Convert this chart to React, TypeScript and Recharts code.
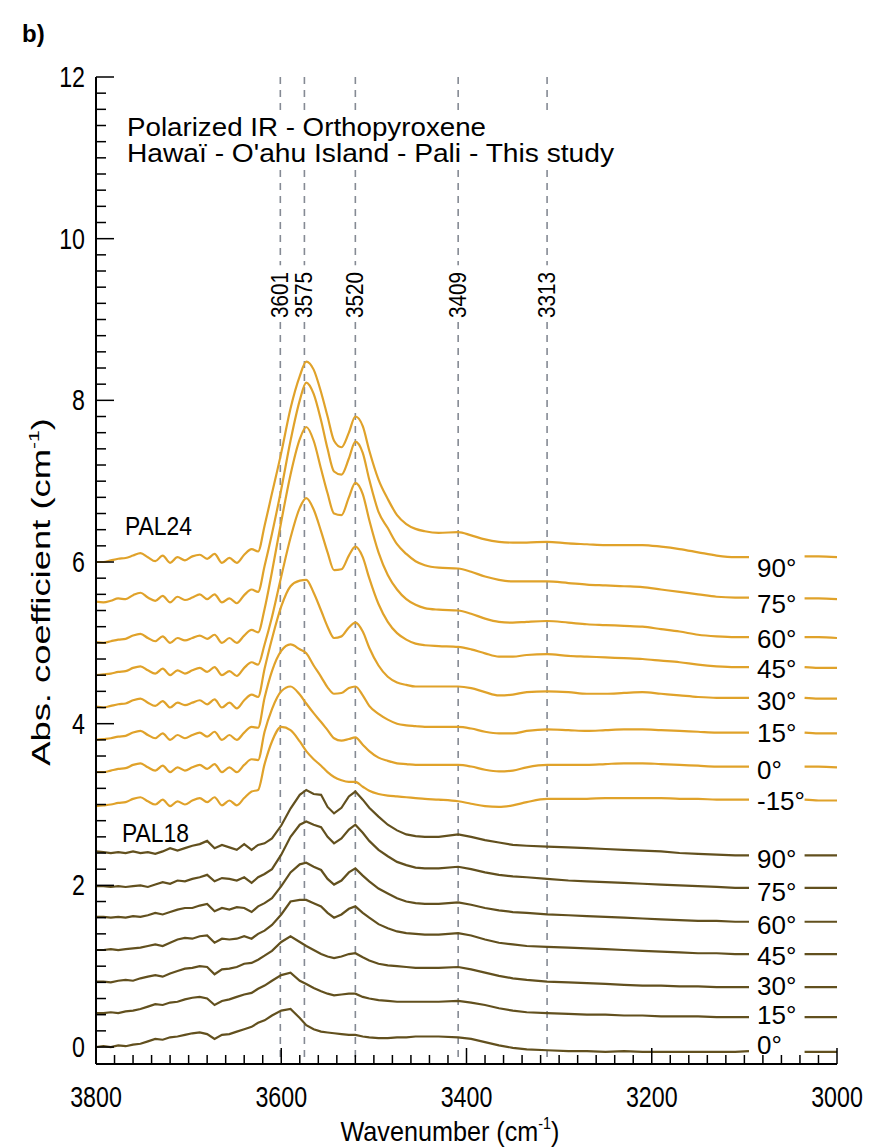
import React from 'react';
import {
  LineChart, Line, XAxis, YAxis, ReferenceLine, ReferenceDot, LabelList, Customized
} from 'recharts';

// wavenumber grid (cm-1), 3070 is the gap behind the angle labels
const wavenumbers = [
  3800, 3792, 3784, 3776, 3768, 3760, 3752, 3744, 3736, 3728, 3720, 3712, 3704, 3696, 3688, 3680,
  3672, 3664, 3656, 3648, 3640, 3632, 3625,
  3618, 3610, 3600, 3590, 3580, 3573, 3565, 3557, 3550, 3543, 3535, 3527, 3520, 3512, 3505, 3495,
  3485, 3475, 3465, 3455, 3445, 3430,
  3409, 3395, 3380, 3365, 3350, 3335, 3313, 3290, 3270, 3250, 3230, 3210, 3190, 3170, 3150, 3130,
  3110, 3095, 3070, 3035, 3020, 3000
];

// PAL24 spectra
const pal24_90 = [
  6.00, 6.00, 6.02, 6.04, 6.05, 6.08, 6.11, 6.06, 6.01, 6.08, 5.99, 6.06, 6.02, 6.07, 6.09, 6.04, 6.10, 5.99, 6.05, 5.99, 6.09, 6.16, 6.13,
  6.45, 6.85, 7.35, 7.90, 8.30, 8.48, 8.38, 8.10, 7.80, 7.50, 7.42, 7.60, 7.80, 7.68, 7.38, 7.02, 6.78, 6.58, 6.47, 6.41, 6.38, 6.36,
  6.37, 6.33, 6.28, 6.25, 6.24, 6.24, 6.25, 6.23, 6.22, 6.21, 6.21, 6.21, 6.19, 6.16, 6.12, 6.08, 6.06, 6.06, null, 6.07, 6.07, 6.06
];
const pal24_75 = [
  5.51, 5.50, 5.52, 5.55, 5.54, 5.59, 5.62, 5.56, 5.52, 5.58, 5.50, 5.57, 5.53, 5.56, 5.60, 5.54, 5.60, 5.50, 5.55, 5.49, 5.59, 5.66, 5.63,
  5.95, 6.35, 6.90, 7.50, 8.00, 8.22, 8.08, 7.75, 7.40, 7.12, 7.08, 7.28, 7.49, 7.35, 7.02, 6.62, 6.42, 6.22, 6.10, 6.01, 5.96, 5.93,
  5.92, 5.88, 5.82, 5.78, 5.76, 5.76, 5.76, 5.74, 5.72, 5.71, 5.70, 5.69, 5.66, 5.63, 5.60, 5.57, 5.56, 5.56, null, 5.55, 5.55, 5.54
];
const pal24_60 = [
  5.01, 5.00, 5.02, 5.04, 5.05, 5.09, 5.11, 5.06, 5.02, 5.08, 5.00, 5.06, 5.03, 5.06, 5.09, 5.05, 5.10, 5.00, 5.06, 5.00, 5.09, 5.16, 5.13,
  5.42, 5.88, 6.50, 7.08, 7.52, 7.67, 7.50, 7.15, 6.85, 6.60, 6.58, 6.80, 6.98, 6.84, 6.52, 6.12, 5.84, 5.66, 5.54, 5.47, 5.43, 5.41,
  5.40, 5.36, 5.30, 5.26, 5.25, 5.26, 5.27, 5.25, 5.23, 5.22, 5.21, 5.20, 5.17, 5.14, 5.10, 5.08, 5.07, 5.07, null, 5.07, 5.07, 5.06
];
const pal24_45 = [
  4.60, 4.61, 4.62, 4.64, 4.65, 4.69, 4.71, 4.66, 4.62, 4.68, 4.60, 4.66, 4.62, 4.66, 4.69, 4.64, 4.70, 4.60, 4.65, 4.59, 4.69, 4.76, 4.73,
  4.98, 5.32, 5.82, 6.30, 6.67, 6.79, 6.65, 6.38, 6.12, 5.90, 5.91, 6.08, 6.19, 6.06, 5.80, 5.48, 5.26, 5.12, 5.04, 4.99, 4.97, 4.96,
  4.95, 4.92, 4.87, 4.83, 4.83, 4.85, 4.86, 4.84, 4.83, 4.82, 4.81, 4.80, 4.78, 4.76, 4.73, 4.71, 4.70, 4.70, null, 4.70, 4.69, 4.69
];
const pal24_30 = [
  4.21, 4.20, 4.22, 4.24, 4.25, 4.29, 4.31, 4.26, 4.22, 4.28, 4.20, 4.26, 4.23, 4.26, 4.29, 4.24, 4.30, 4.20, 4.26, 4.19, 4.29, 4.36, 4.33,
  4.68, 5.05, 5.45, 5.70, 5.77, 5.78, 5.62, 5.40, 5.20, 5.06, 5.08, 5.19, 5.25, 5.14, 4.94, 4.72, 4.58, 4.51, 4.48, 4.46, 4.46, 4.46,
  4.46, 4.44, 4.39, 4.35, 4.36, 4.39, 4.40, 4.39, 4.37, 4.37, 4.38, 4.39, 4.37, 4.35, 4.33, 4.32, 4.32, 4.32, null, 4.32, 4.31, 4.31
];
const pal24_15 = [
  3.80, 3.81, 3.82, 3.84, 3.85, 3.89, 3.91, 3.86, 3.82, 3.88, 3.80, 3.86, 3.82, 3.86, 3.89, 3.84, 3.90, 3.80, 3.86, 3.80, 3.89, 3.96, 3.95,
  4.32, 4.65, 4.90, 4.98, 4.92, 4.87, 4.72, 4.58, 4.45, 4.37, 4.38, 4.44, 4.46, 4.35, 4.22, 4.12, 4.05, 4.00, 3.98, 3.97, 3.96, 3.96,
  3.96, 3.94, 3.90, 3.88, 3.88, 3.91, 3.93, 3.92, 3.91, 3.92, 3.93, 3.93, 3.92, 3.91, 3.90, 3.89, 3.89, 3.89, null, 3.89, 3.88, 3.88
];
const pal24_0 = [
  3.40, 3.40, 3.42, 3.44, 3.45, 3.49, 3.51, 3.46, 3.42, 3.48, 3.40, 3.46, 3.42, 3.46, 3.49, 3.44, 3.50, 3.40, 3.46, 3.40, 3.49, 3.56, 3.55,
  3.90, 4.18, 4.40, 4.46, 4.36, 4.25, 4.13, 4.02, 3.92, 3.82, 3.79, 3.81, 3.83, 3.74, 3.66, 3.58, 3.54, 3.51, 3.50, 3.49, 3.49, 3.49,
  3.49, 3.47, 3.43, 3.41, 3.42, 3.46, 3.49, 3.49, 3.49, 3.50, 3.51, 3.51, 3.50, 3.49, 3.48, 3.47, 3.47, 3.47, null, 3.47, 3.47, 3.46
];
const pal24_m15 = [
  2.98, 2.99, 3.00, 3.02, 3.03, 3.07, 3.09, 3.04, 3.00, 3.06, 2.98, 3.04, 3.00, 3.05, 3.08, 3.03, 3.09, 2.99, 3.05, 2.99, 3.08, 3.16, 3.18,
  3.50, 3.78, 3.96, 3.92, 3.78, 3.66, 3.56, 3.48, 3.40, 3.34, 3.30, 3.28, 3.28, 3.22, 3.17, 3.13, 3.11, 3.10, 3.09, 3.08, 3.07, 3.06,
  3.04, 3.01, 2.98, 2.97, 2.99, 3.03, 3.07, 3.07, 3.07, 3.08, 3.08, 3.08, 3.08, 3.07, 3.07, 3.06, 3.06, 3.06, null, 3.06, 3.05, 3.05
];

// PAL18 spectra
const pal18_90 = [
  2.42, 2.41, 2.40, 2.41, 2.40, 2.42, 2.40, 2.41, 2.39, 2.42, 2.46, 2.43, 2.46, 2.49, 2.51, 2.55, 2.46, 2.50, 2.47, 2.44, 2.51, 2.44, 2.50,
  2.52, 2.58, 2.74, 2.95, 3.12, 3.18, 3.13, 3.12, 2.97, 2.89, 2.96, 3.10, 3.16, 3.06, 2.96, 2.85, 2.75, 2.68, 2.63, 2.61, 2.60, 2.60,
  2.63, 2.60, 2.56, 2.53, 2.50, 2.49, 2.48, 2.47, 2.46, 2.45, 2.44, 2.43, 2.42, 2.40, 2.39, 2.38, 2.37, 2.37, null, 2.37, 2.37, 2.37
];
const pal18_75 = [
  1.99, 1.99, 1.98, 1.99, 1.98, 1.99, 2.00, 1.98, 2.01, 2.04, 2.02, 2.06, 2.05, 2.08, 2.10, 2.13, 2.05, 2.09, 2.08, 2.06, 2.10, 2.03, 2.10,
  2.14, 2.20, 2.38, 2.60, 2.75, 2.79, 2.75, 2.72, 2.60, 2.52, 2.58, 2.69, 2.75, 2.65, 2.55, 2.44, 2.36, 2.29, 2.25, 2.22, 2.21, 2.21,
  2.23, 2.20, 2.16, 2.13, 2.11, 2.10, 2.08, 2.06, 2.05, 2.04, 2.03, 2.02, 2.01, 2.00, 1.99, 1.98, 1.97, 1.97, null, 1.97, 1.97, 1.97
];
const pal18_60 = [
  1.61, 1.61, 1.60, 1.61, 1.60, 1.62, 1.61, 1.63, 1.66, 1.64, 1.67, 1.70, 1.72, 1.72, 1.75, 1.77, 1.68, 1.72, 1.70, 1.73, 1.72, 1.67, 1.74,
  1.78, 1.84, 1.99, 2.16, 2.26, 2.28, 2.23, 2.19, 2.08, 2.01, 2.06, 2.16, 2.21, 2.12, 2.05, 1.96, 1.90, 1.84, 1.80, 1.78, 1.77, 1.77,
  1.79, 1.76, 1.72, 1.69, 1.67, 1.66, 1.64, 1.63, 1.62, 1.61, 1.60, 1.59, 1.58, 1.57, 1.56, 1.56, 1.55, 1.55, null, 1.55, 1.55, 1.55
];
const pal18_45 = [
  1.20, 1.20, 1.21, 1.20, 1.21, 1.22, 1.23, 1.25, 1.27, 1.25, 1.29, 1.33, 1.35, 1.34, 1.37, 1.38, 1.29, 1.34, 1.33, 1.34, 1.37, 1.34, 1.40,
  1.44, 1.51, 1.64, 1.80, 1.82, 1.82, 1.78, 1.74, 1.66, 1.60, 1.64, 1.71, 1.74, 1.66, 1.60, 1.52, 1.47, 1.43, 1.41, 1.40, 1.39, 1.39,
  1.41, 1.38, 1.33, 1.29, 1.27, 1.25, 1.24, 1.23, 1.22, 1.21, 1.20, 1.19, 1.18, 1.17, 1.16, 1.16, 1.15, 1.15, null, 1.15, 1.15, 1.15
];
const pal18_30 = [
  0.81, 0.81, 0.80, 0.82, 0.83, 0.82, 0.85, 0.87, 0.89, 0.87, 0.91, 0.94, 0.97, 0.98, 1.00, 0.99, 0.90, 0.96, 0.97, 0.99, 1.03, 1.04, 1.08,
  1.13, 1.19, 1.30, 1.37, 1.30, 1.25, 1.20, 1.15, 1.12, 1.10, 1.12, 1.15, 1.16, 1.11, 1.07, 1.03, 1.01, 1.00, 0.99, 0.98, 0.98, 0.98,
  0.99, 0.96, 0.92, 0.88, 0.85, 0.83, 0.81, 0.80, 0.79, 0.78, 0.77, 0.76, 0.76, 0.75, 0.75, 0.74, 0.74, 0.74, null, 0.74, 0.74, 0.74
];
const pal18_15 = [
  0.42, 0.42, 0.43, 0.42, 0.44, 0.45, 0.47, 0.50, 0.53, 0.52, 0.55, 0.56, 0.59, 0.61, 0.62, 0.60, 0.52, 0.57, 0.59, 0.62, 0.65, 0.67, 0.72,
  0.76, 0.82, 0.89, 0.92, 0.82, 0.78, 0.73, 0.69, 0.66, 0.64, 0.65, 0.66, 0.66, 0.62, 0.60, 0.58, 0.57, 0.56, 0.56, 0.56, 0.56, 0.56,
  0.57, 0.55, 0.52, 0.48, 0.45, 0.43, 0.42, 0.41, 0.40, 0.40, 0.39, 0.39, 0.38, 0.38, 0.38, 0.37, 0.37, 0.37, null, 0.37, 0.37, 0.37
];
const pal18_0 = [
  0.00, 0.01, 0.00, 0.02, 0.01, 0.03, 0.04, 0.07, 0.10, 0.09, 0.12, 0.13, 0.15, 0.17, 0.18, 0.16, 0.10, 0.15, 0.16, 0.19, 0.22, 0.25, 0.30,
  0.33, 0.39, 0.45, 0.47, 0.36, 0.27, 0.22, 0.19, 0.18, 0.17, 0.16, 0.15, 0.15, 0.13, 0.12, 0.11, 0.11, 0.12, 0.12, 0.13, 0.13, 0.13,
  0.12, 0.10, 0.06, 0.02, -0.01, -0.03, -0.04, -0.05, -0.05, -0.06, -0.05, -0.06, -0.06, -0.06, -0.06, -0.06, -0.06, -0.05, null, -0.06, -0.06, -0.06
];

// band positions marked with dashed lines
const bands = [3601, 3575, 3520, 3409, 3313];

const xTicks = Array.from({ length: 41 }, (_, i) => 3000 + i * 20);
const yTicks = Array.from({ length: 61 }, (_, i) => Math.round(i * 2) / 10);

const PAL24_COLOR = '#e0a22a';
const PAL18_COLOR = '#62501e';
const FONT = '"Liberation Sans", Arial, Helvetica, sans-serif';

// labelDy: baseline offset of the angle label from the curve end
const series = [
  { key: 'a90', label: '90°', values: pal24_90, color: PAL24_COLOR, curve: 'monotone', labelDy: 20 },
  { key: 'a75', label: '75°', values: pal24_75, color: PAL24_COLOR, curve: 'monotone', labelDy: 15 },
  { key: 'a60', label: '60°', values: pal24_60, color: PAL24_COLOR, curve: 'monotone', labelDy: 11 },
  { key: 'a45', label: '45°', values: pal24_45, color: PAL24_COLOR, curve: 'monotone', labelDy: 11 },
  { key: 'a30', label: '30°', values: pal24_30, color: PAL24_COLOR, curve: 'monotone', labelDy: 12 },
  { key: 'a15', label: '15°', values: pal24_15, color: PAL24_COLOR, curve: 'monotone', labelDy: 9 },
  { key: 'a0', label: '0°', values: pal24_0, color: PAL24_COLOR, curve: 'monotone', labelDy: 12 },
  { key: 'am15', label: '-15°', values: pal24_m15, color: PAL24_COLOR, curve: 'monotone', labelDy: 10 },
  { key: 'b90', label: '90°', values: pal18_90, color: PAL18_COLOR, curve: 'linear', labelDy: 13 },
  { key: 'b75', label: '75°', values: pal18_75, color: PAL18_COLOR, curve: 'linear', labelDy: 13 },
  { key: 'b60', label: '60°', values: pal18_60, color: PAL18_COLOR, curve: 'linear', labelDy: 12 },
  { key: 'b45', label: '45°', values: pal18_45, color: PAL18_COLOR, curve: 'linear', labelDy: 11 },
  { key: 'b30', label: '30°', values: pal18_30, color: PAL18_COLOR, curve: 'linear', labelDy: 8 },
  { key: 'b15', label: '15°', values: pal18_15, color: PAL18_COLOR, curve: 'linear', labelDy: 7 },
  { key: 'b0', label: '0°', values: pal18_0, color: PAL18_COLOR, curve: 'linear', labelDy: 3 },
];

const chartData = wavenumbers.map((wn, i) => {
  const row: Record<string, number | null> = { wn };
  series.forEach((s) => { row[s.key] = s.values[i]; });
  return row;
});

const LABEL_INDEX = wavenumbers.indexOf(3095);

const BottomTick = ({ x, y, payload }: any) => {
  const major = payload.value % 200 === 0;
  return (
    <g>
      <line x1={x} y1={y} x2={x} y2={y - (major ? 16 : 9)} stroke="#000" strokeWidth={1.5} />
      {major && (
        <g transform={`translate(${x},${y + 43}) scale(0.8,1)`}>
          <text x={0} y={0} textAnchor="middle" fontSize={29} fontFamily={FONT} fill="#000">
            {payload.value}
          </text>
        </g>
      )}
    </g>
  );
};

const TopTick = ({ x, y, payload }: any) => {
  const major = payload.value % 200 === 0;
  return <line x1={x} y1={y} x2={x} y2={y + (major ? 16 : 9)} stroke="#000" strokeWidth={1.5} />;
};

const LeftTick = ({ x, y, payload }: any) => {
  const major = Math.round(payload.value * 10) % 20 === 0;
  return (
    <g>
      <line x1={x} y1={y} x2={x + (major ? 18 : 10)} y2={y} stroke="#000" strokeWidth={1.5} />
      {major && (
        <g transform={`translate(${x - 11},${y + 10}) scale(0.8,1)`}>
          <text x={0} y={0} textAnchor="end" fontSize={29} fontFamily={FONT} fill="#000">
            {payload.value}
          </text>
        </g>
      )}
    </g>
  );
};

const RightTick = ({ x, y, payload }: any) => {
  const major = Math.round(payload.value * 10) % 20 === 0;
  return <line x1={x} y1={y} x2={x - (major ? 18 : 10)} y2={y} stroke="#000" strokeWidth={1.5} />;
};

const BandLabel = ({ cx, cy, text }: any) => {
  const bx = cx + 8;
  const by = cy - 4;
  return (
    <text
      x={bx}
      y={by}
      transform={`rotate(-90 ${bx} ${by})`}
      textAnchor="start"
      fontSize={24}
      fontFamily={FONT}
      fill="#000"
      textLength={46}
      lengthAdjust="spacingAndGlyphs"
    >
      {text}
    </text>
  );
};

const Annotations = () => (
  <g fontFamily={FONT} fill="#000">
    <text x={22} y={42} fontSize={24} fontWeight="bold">b)</text>
    <text x={127} y={136} fontSize={25} textLength={359} lengthAdjust="spacingAndGlyphs">
      Polarized IR - Orthopyroxene
    </text>
    <text x={127} y={162} fontSize={25} textLength={487} lengthAdjust="spacingAndGlyphs">
      Hawaï - O'ahu Island  - Pali - This study
    </text>
    <text x={125} y={535} fontSize={25} textLength={67} lengthAdjust="spacingAndGlyphs">PAL24</text>
    <text x={122} y={842} fontSize={25} textLength={67} lengthAdjust="spacingAndGlyphs">PAL18</text>
    <g transform="translate(450,1141) scale(0.9,1)">
      <text x={0} y={0} textAnchor="middle" fontSize={28}>
        Wavenumber (cm<tspan fontSize={16} dy={-12}>-1</tspan><tspan dy={12}>)</tspan>
      </text>
    </g>
    <g transform="translate(50,592) rotate(-90) scale(1.4,1)">
      <text x={0} y={0} textAnchor="middle" fontSize={26}>
        Abs. coefficient (cm<tspan fontSize={15} dy={-11}>-1</tspan><tspan dy={11}>)</tspan>
      </text>
    </g>
  </g>
);

const endLabel = (text: string, dy: number) => (props: any) => {
  const { x, y, index } = props;
  if (index !== LABEL_INDEX || x == null || y == null) return null;
  return (
    <text x={x + 8} y={y + dy} fontSize={26} fontFamily={FONT} fill="#000">
      {text}
    </text>
  );
};

export default function App() {
  const dash = { stroke: '#858a94', strokeWidth: 1.6, strokeDasharray: '7 6' };
  return (
    <div style={{ position: 'absolute', left: 0, top: 0, width: 888, height: 1147, background: '#fff' }}>
      <LineChart
        width={888}
        height={1147}
        data={chartData}
        margin={{ top: 77, right: 51, left: 36, bottom: 43 }}
      >
        <XAxis
          dataKey="wn"
          type="number"
          domain={[3000, 3800]}
          reversed
          allowDataOverflow
          ticks={xTicks}
          interval={0}
          tickSize={0}
          tickMargin={0}
          height={40}
          axisLine={{ stroke: '#000', strokeWidth: 2 }}
          tick={(p: any) => <BottomTick {...p} />}
        />
        <XAxis
          xAxisId="top"
          orientation="top"
          dataKey="wn"
          type="number"
          domain={[3000, 3800]}
          reversed
          allowDataOverflow
          ticks={xTicks}
          interval={0}
          tickSize={0}
          tickMargin={0}
          height={0}
          axisLine={{ stroke: '#000', strokeWidth: 2 }}
          tick={(p: any) => <TopTick {...p} />}
        />
        <YAxis
          type="number"
          domain={[-0.21, 12]}
          allowDataOverflow
          ticks={yTicks}
          interval={0}
          tickSize={0}
          tickMargin={0}
          width={60}
          axisLine={{ stroke: '#000', strokeWidth: 2 }}
          tick={(p: any) => <LeftTick {...p} />}
        />
        <YAxis
          yAxisId="right"
          orientation="right"
          type="number"
          domain={[-0.21, 12]}
          allowDataOverflow
          ticks={yTicks}
          interval={0}
          tickSize={0}
          tickMargin={0}
          width={0}
          axisLine={{ stroke: '#000', strokeWidth: 2 }}
          tick={(p: any) => <RightTick {...p} />}
        />

        {bands.map((b) => (
          <ReferenceLine key={`t${b}`} segment={[{ x: b, y: 12 }, { x: b, y: 11.57 }]} {...dash} />
        ))}
        {bands.map((b) => (
          <ReferenceLine key={`m${b}`} segment={[{ x: b, y: 10.85 }, { x: b, y: 9.67 }]} {...dash} />
        ))}
        {bands.map((b) => (
          <ReferenceLine key={`b${b}`} segment={[{ x: b, y: 8.97 }, { x: b, y: -0.21 }]} {...dash} />
        ))}
        {bands.map((b) => (
          <ReferenceDot
            key={`l${b}`}
            x={b}
            y={8.97}
            r={0}
            ifOverflow="visible"
            shape={(p: any) => <BandLabel cx={p.cx} cy={p.cy} text={String(b)} />}
          />
        ))}

        {series.map((s) => (
          <Line
            key={s.key}
            dataKey={s.key}
            type={s.curve as any}
            stroke={s.color}
            strokeWidth={2.2}
            dot={false}
            activeDot={false}
            connectNulls={false}
            isAnimationActive={false}
          >
            <LabelList dataKey={s.key} content={endLabel(s.label, s.labelDy)} />
          </Line>
        ))}

        <Customized component={Annotations} />
      </LineChart>
    </div>
  );
}
